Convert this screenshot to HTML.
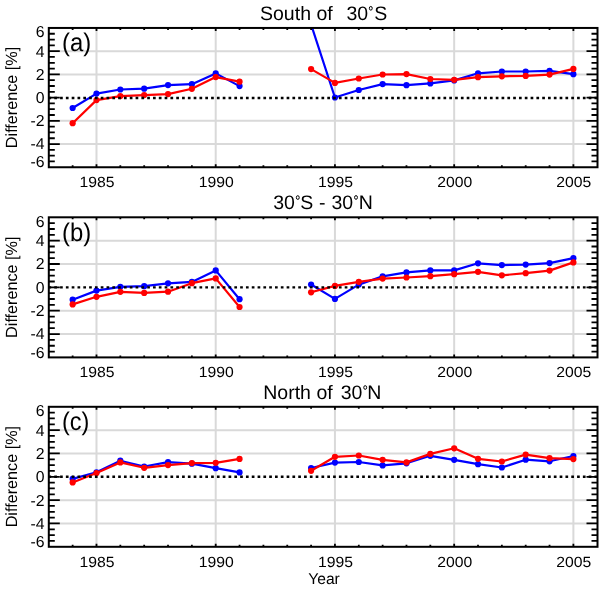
<!DOCTYPE html><html><head><meta charset="utf-8"><style>html,body{margin:0;padding:0;background:#fff;}svg{display:block;will-change:transform;}text{font-family:"Liberation Sans", sans-serif;fill:#000;text-rendering:geometricPrecision;}</style></head><body>
<svg width="604" height="590" viewBox="0 0 604 590">
<rect x="0" y="0" width="604" height="590" fill="#fff"/>
<defs><clipPath id="c0"><rect x="48.80" y="27.95" width="548.70" height="139.30"/></clipPath></defs>
<path d="M96.49 27.95V167.25M215.71 27.95V167.25M334.94 27.95V167.25M454.17 27.95V167.25M573.39 27.95V167.25M48.80 51.17H597.50M48.80 74.38H597.50M48.80 120.82H597.50M48.80 144.03H597.50" stroke="#d9d9d9" stroke-width="2.0" fill="none"/>
<text x="62.0" y="51.35" font-size="25.5" textLength="29.2" lengthAdjust="spacingAndGlyphs">(a)</text>
<g clip-path="url(#c0)">
<path d="M72.64 108.00 L96.49 93.60 L120.33 89.50 L144.18 88.70 L168.02 85.10 L191.87 84.20 L215.71 73.40 L239.56 86.10" stroke="#0000ff" stroke-width="2.2" fill="none" stroke-linejoin="round"/>
<circle cx="72.64" cy="108.00" r="3.1" fill="#0000ff"/>
<circle cx="96.49" cy="93.60" r="3.1" fill="#0000ff"/>
<circle cx="120.33" cy="89.50" r="3.1" fill="#0000ff"/>
<circle cx="144.18" cy="88.70" r="3.1" fill="#0000ff"/>
<circle cx="168.02" cy="85.10" r="3.1" fill="#0000ff"/>
<circle cx="191.87" cy="84.20" r="3.1" fill="#0000ff"/>
<circle cx="215.71" cy="73.40" r="3.1" fill="#0000ff"/>
<circle cx="239.56" cy="86.10" r="3.1" fill="#0000ff"/>
<path d="M311.09 24.50 L334.94 97.50 L358.79 90.00 L382.63 84.10 L406.47 85.20 L430.32 83.40 L454.17 80.40 L478.01 73.30 L501.85 71.50 L525.70 71.50 L549.54 70.80 L573.39 74.20" stroke="#0000ff" stroke-width="2.2" fill="none" stroke-linejoin="round"/>
<circle cx="311.09" cy="24.50" r="3.1" fill="#0000ff"/>
<circle cx="334.94" cy="97.50" r="3.1" fill="#0000ff"/>
<circle cx="358.79" cy="90.00" r="3.1" fill="#0000ff"/>
<circle cx="382.63" cy="84.10" r="3.1" fill="#0000ff"/>
<circle cx="406.47" cy="85.20" r="3.1" fill="#0000ff"/>
<circle cx="430.32" cy="83.40" r="3.1" fill="#0000ff"/>
<circle cx="454.17" cy="80.40" r="3.1" fill="#0000ff"/>
<circle cx="478.01" cy="73.30" r="3.1" fill="#0000ff"/>
<circle cx="501.85" cy="71.50" r="3.1" fill="#0000ff"/>
<circle cx="525.70" cy="71.50" r="3.1" fill="#0000ff"/>
<circle cx="549.54" cy="70.80" r="3.1" fill="#0000ff"/>
<circle cx="573.39" cy="74.20" r="3.1" fill="#0000ff"/>
<path d="M72.64 123.20 L96.49 100.10 L120.33 96.10 L144.18 95.10 L168.02 94.10 L191.87 88.80 L215.71 77.10 L239.56 81.70" stroke="#ff0000" stroke-width="2.2" fill="none" stroke-linejoin="round"/>
<circle cx="72.64" cy="123.20" r="3.1" fill="#ff0000"/>
<circle cx="96.49" cy="100.10" r="3.1" fill="#ff0000"/>
<circle cx="120.33" cy="96.10" r="3.1" fill="#ff0000"/>
<circle cx="144.18" cy="95.10" r="3.1" fill="#ff0000"/>
<circle cx="168.02" cy="94.10" r="3.1" fill="#ff0000"/>
<circle cx="191.87" cy="88.80" r="3.1" fill="#ff0000"/>
<circle cx="215.71" cy="77.10" r="3.1" fill="#ff0000"/>
<circle cx="239.56" cy="81.70" r="3.1" fill="#ff0000"/>
<path d="M311.09 69.10 L334.94 82.90 L358.79 78.50 L382.63 74.50 L406.47 74.10 L430.32 79.00 L454.17 79.80 L478.01 77.20 L501.85 76.30 L525.70 75.90 L549.54 74.60 L573.39 68.90" stroke="#ff0000" stroke-width="2.2" fill="none" stroke-linejoin="round"/>
<circle cx="311.09" cy="69.10" r="3.1" fill="#ff0000"/>
<circle cx="334.94" cy="82.90" r="3.1" fill="#ff0000"/>
<circle cx="358.79" cy="78.50" r="3.1" fill="#ff0000"/>
<circle cx="382.63" cy="74.50" r="3.1" fill="#ff0000"/>
<circle cx="406.47" cy="74.10" r="3.1" fill="#ff0000"/>
<circle cx="430.32" cy="79.00" r="3.1" fill="#ff0000"/>
<circle cx="454.17" cy="79.80" r="3.1" fill="#ff0000"/>
<circle cx="478.01" cy="77.20" r="3.1" fill="#ff0000"/>
<circle cx="501.85" cy="76.30" r="3.1" fill="#ff0000"/>
<circle cx="525.70" cy="75.90" r="3.1" fill="#ff0000"/>
<circle cx="549.54" cy="74.60" r="3.1" fill="#ff0000"/>
<circle cx="573.39" cy="68.90" r="3.1" fill="#ff0000"/>
</g>
<path d="M48.80 97.95H597.50" stroke="#000" stroke-width="2.4" stroke-dasharray="2.7 3.109" stroke-dashoffset="0.35" fill="none"/>
<path d="M48.80 161.45h6.00M597.50 161.45h-6.00M48.80 155.64h6.00M597.50 155.64h-6.00M48.80 149.84h6.00M597.50 149.84h-6.00M48.80 144.03h11.00M597.50 144.03h-11.00M48.80 138.23h6.00M597.50 138.23h-6.00M48.80 132.43h6.00M597.50 132.43h-6.00M48.80 126.62h6.00M597.50 126.62h-6.00M48.80 120.82h11.00M597.50 120.82h-11.00M48.80 115.01h6.00M597.50 115.01h-6.00M48.80 109.21h6.00M597.50 109.21h-6.00M48.80 103.40h6.00M597.50 103.40h-6.00M48.80 97.60h11.00M597.50 97.60h-11.00M48.80 91.80h6.00M597.50 91.80h-6.00M48.80 85.99h6.00M597.50 85.99h-6.00M48.80 80.19h6.00M597.50 80.19h-6.00M48.80 74.38h11.00M597.50 74.38h-11.00M48.80 68.58h6.00M597.50 68.58h-6.00M48.80 62.78h6.00M597.50 62.78h-6.00M48.80 56.97h6.00M597.50 56.97h-6.00M48.80 51.17h11.00M597.50 51.17h-11.00M48.80 45.36h6.00M597.50 45.36h-6.00M48.80 39.56h6.00M597.50 39.56h-6.00M48.80 33.75h6.00M597.50 33.75h-6.00M72.64 167.25v-2.00M72.64 27.95v2.00M96.49 167.25v-3.00M96.49 27.95v3.00M120.33 167.25v-2.00M120.33 27.95v2.00M144.18 167.25v-2.00M144.18 27.95v2.00M168.02 167.25v-2.00M168.02 27.95v2.00M191.87 167.25v-2.00M191.87 27.95v2.00M215.71 167.25v-3.00M215.71 27.95v3.00M239.56 167.25v-2.00M239.56 27.95v2.00M263.40 167.25v-2.00M263.40 27.95v2.00M287.25 167.25v-2.00M287.25 27.95v2.00M311.09 167.25v-2.00M311.09 27.95v2.00M334.94 167.25v-3.00M334.94 27.95v3.00M358.79 167.25v-2.00M358.79 27.95v2.00M382.63 167.25v-2.00M382.63 27.95v2.00M406.47 167.25v-2.00M406.47 27.95v2.00M430.32 167.25v-2.00M430.32 27.95v2.00M454.17 167.25v-3.00M454.17 27.95v3.00M478.01 167.25v-2.00M478.01 27.95v2.00M501.85 167.25v-2.00M501.85 27.95v2.00M525.70 167.25v-2.00M525.70 27.95v2.00M549.54 167.25v-2.00M549.54 27.95v2.00M573.39 167.25v-3.00M573.39 27.95v3.00" stroke="#000" stroke-width="1.8" fill="none"/>
<rect x="48.80" y="27.95" width="548.70" height="139.30" stroke="#000" stroke-width="2.0" fill="none"/>
<text x="44.5" y="37.15" font-size="15.8" text-anchor="end">6</text>
<text x="44.5" y="56.57" font-size="15.8" text-anchor="end">4</text>
<text x="44.5" y="79.78" font-size="15.8" text-anchor="end">2</text>
<text x="44.5" y="103.00" font-size="15.8" text-anchor="end">0</text>
<text x="44.5" y="126.22" font-size="15.8" text-anchor="end">-2</text>
<text x="44.5" y="149.43" font-size="15.8" text-anchor="end">-4</text>
<text x="44.5" y="167.35" font-size="15.8" text-anchor="end">-6</text>
<text x="96.99" y="187.25" font-size="14.8" text-anchor="middle" textLength="35.0" lengthAdjust="spacingAndGlyphs">1985</text>
<text x="216.21" y="187.25" font-size="14.8" text-anchor="middle" textLength="35.0" lengthAdjust="spacingAndGlyphs">1990</text>
<text x="335.44" y="187.25" font-size="14.8" text-anchor="middle" textLength="35.0" lengthAdjust="spacingAndGlyphs">1995</text>
<text x="454.67" y="187.25" font-size="14.8" text-anchor="middle" textLength="35.0" lengthAdjust="spacingAndGlyphs">2000</text>
<text x="573.89" y="187.25" font-size="14.8" text-anchor="middle" textLength="35.0" lengthAdjust="spacingAndGlyphs">2005</text>
<text x="260.02" y="19.85" font-size="19.5">South of</text>
<text x="346.47" y="19.85" font-size="19.5">30</text>
<ellipse cx="370.80" cy="8.30" rx="1.45" ry="1.85" fill="none" stroke="#000" stroke-width="1.0"/>
<text x="374.22" y="19.85" font-size="19.5">S</text>
<text x="0" y="0" font-size="16.2" text-anchor="middle" transform="translate(17.1 97.45) rotate(-90)">Difference [%]</text>
<defs><clipPath id="c1"><rect x="48.80" y="217.30" width="548.70" height="140.10"/></clipPath></defs>
<path d="M96.49 217.30V357.40M215.71 217.30V357.40M334.94 217.30V357.40M454.17 217.30V357.40M573.39 217.30V357.40M48.80 240.65H597.50M48.80 264.00H597.50M48.80 310.70H597.50M48.80 334.05H597.50" stroke="#d9d9d9" stroke-width="2.0" fill="none"/>
<text x="62.0" y="240.70" font-size="25.5" textLength="29.2" lengthAdjust="spacingAndGlyphs">(b)</text>
<g clip-path="url(#c1)">
<path d="M72.64 299.70 L96.49 290.60 L120.33 286.80 L144.18 286.20 L168.02 283.30 L191.87 281.90 L215.71 270.40 L239.56 299.20" stroke="#0000ff" stroke-width="2.2" fill="none" stroke-linejoin="round"/>
<circle cx="72.64" cy="299.70" r="3.1" fill="#0000ff"/>
<circle cx="96.49" cy="290.60" r="3.1" fill="#0000ff"/>
<circle cx="120.33" cy="286.80" r="3.1" fill="#0000ff"/>
<circle cx="144.18" cy="286.20" r="3.1" fill="#0000ff"/>
<circle cx="168.02" cy="283.30" r="3.1" fill="#0000ff"/>
<circle cx="191.87" cy="281.90" r="3.1" fill="#0000ff"/>
<circle cx="215.71" cy="270.40" r="3.1" fill="#0000ff"/>
<circle cx="239.56" cy="299.20" r="3.1" fill="#0000ff"/>
<path d="M311.09 284.50 L334.94 298.90 L358.79 284.60 L382.63 276.30 L406.47 272.40 L430.32 270.40 L454.17 270.40 L478.01 263.30 L501.85 265.10 L525.70 264.60 L549.54 263.10 L573.39 258.20" stroke="#0000ff" stroke-width="2.2" fill="none" stroke-linejoin="round"/>
<circle cx="311.09" cy="284.50" r="3.1" fill="#0000ff"/>
<circle cx="334.94" cy="298.90" r="3.1" fill="#0000ff"/>
<circle cx="358.79" cy="284.60" r="3.1" fill="#0000ff"/>
<circle cx="382.63" cy="276.30" r="3.1" fill="#0000ff"/>
<circle cx="406.47" cy="272.40" r="3.1" fill="#0000ff"/>
<circle cx="430.32" cy="270.40" r="3.1" fill="#0000ff"/>
<circle cx="454.17" cy="270.40" r="3.1" fill="#0000ff"/>
<circle cx="478.01" cy="263.30" r="3.1" fill="#0000ff"/>
<circle cx="501.85" cy="265.10" r="3.1" fill="#0000ff"/>
<circle cx="525.70" cy="264.60" r="3.1" fill="#0000ff"/>
<circle cx="549.54" cy="263.10" r="3.1" fill="#0000ff"/>
<circle cx="573.39" cy="258.20" r="3.1" fill="#0000ff"/>
<path d="M72.64 304.40 L96.49 296.80 L120.33 291.80 L144.18 292.90 L168.02 291.70 L191.87 283.20 L215.71 278.40 L239.56 307.00" stroke="#ff0000" stroke-width="2.2" fill="none" stroke-linejoin="round"/>
<circle cx="72.64" cy="304.40" r="3.1" fill="#ff0000"/>
<circle cx="96.49" cy="296.80" r="3.1" fill="#ff0000"/>
<circle cx="120.33" cy="291.80" r="3.1" fill="#ff0000"/>
<circle cx="144.18" cy="292.90" r="3.1" fill="#ff0000"/>
<circle cx="168.02" cy="291.70" r="3.1" fill="#ff0000"/>
<circle cx="191.87" cy="283.20" r="3.1" fill="#ff0000"/>
<circle cx="215.71" cy="278.40" r="3.1" fill="#ff0000"/>
<circle cx="239.56" cy="307.00" r="3.1" fill="#ff0000"/>
<path d="M311.09 292.30 L334.94 285.90 L358.79 281.80 L382.63 278.60 L406.47 277.50 L430.32 276.20 L454.17 274.20 L478.01 271.80 L501.85 275.30 L525.70 273.20 L549.54 270.60 L573.39 262.40" stroke="#ff0000" stroke-width="2.2" fill="none" stroke-linejoin="round"/>
<circle cx="311.09" cy="292.30" r="3.1" fill="#ff0000"/>
<circle cx="334.94" cy="285.90" r="3.1" fill="#ff0000"/>
<circle cx="358.79" cy="281.80" r="3.1" fill="#ff0000"/>
<circle cx="382.63" cy="278.60" r="3.1" fill="#ff0000"/>
<circle cx="406.47" cy="277.50" r="3.1" fill="#ff0000"/>
<circle cx="430.32" cy="276.20" r="3.1" fill="#ff0000"/>
<circle cx="454.17" cy="274.20" r="3.1" fill="#ff0000"/>
<circle cx="478.01" cy="271.80" r="3.1" fill="#ff0000"/>
<circle cx="501.85" cy="275.30" r="3.1" fill="#ff0000"/>
<circle cx="525.70" cy="273.20" r="3.1" fill="#ff0000"/>
<circle cx="549.54" cy="270.60" r="3.1" fill="#ff0000"/>
<circle cx="573.39" cy="262.40" r="3.1" fill="#ff0000"/>
</g>
<path d="M48.80 287.35H597.50" stroke="#000" stroke-width="2.4" stroke-dasharray="2.7 3.109" stroke-dashoffset="0.35" fill="none"/>
<path d="M48.80 351.56h6.00M597.50 351.56h-6.00M48.80 345.73h6.00M597.50 345.73h-6.00M48.80 339.89h6.00M597.50 339.89h-6.00M48.80 334.05h11.00M597.50 334.05h-11.00M48.80 328.21h6.00M597.50 328.21h-6.00M48.80 322.38h6.00M597.50 322.38h-6.00M48.80 316.54h6.00M597.50 316.54h-6.00M48.80 310.70h11.00M597.50 310.70h-11.00M48.80 304.86h6.00M597.50 304.86h-6.00M48.80 299.02h6.00M597.50 299.02h-6.00M48.80 293.19h6.00M597.50 293.19h-6.00M48.80 287.35h11.00M597.50 287.35h-11.00M48.80 281.51h6.00M597.50 281.51h-6.00M48.80 275.68h6.00M597.50 275.68h-6.00M48.80 269.84h6.00M597.50 269.84h-6.00M48.80 264.00h11.00M597.50 264.00h-11.00M48.80 258.16h6.00M597.50 258.16h-6.00M48.80 252.32h6.00M597.50 252.32h-6.00M48.80 246.49h6.00M597.50 246.49h-6.00M48.80 240.65h11.00M597.50 240.65h-11.00M48.80 234.81h6.00M597.50 234.81h-6.00M48.80 228.98h6.00M597.50 228.98h-6.00M48.80 223.14h6.00M597.50 223.14h-6.00M72.64 357.40v-2.00M72.64 217.30v2.00M96.49 357.40v-3.00M96.49 217.30v3.00M120.33 357.40v-2.00M120.33 217.30v2.00M144.18 357.40v-2.00M144.18 217.30v2.00M168.02 357.40v-2.00M168.02 217.30v2.00M191.87 357.40v-2.00M191.87 217.30v2.00M215.71 357.40v-3.00M215.71 217.30v3.00M239.56 357.40v-2.00M239.56 217.30v2.00M263.40 357.40v-2.00M263.40 217.30v2.00M287.25 357.40v-2.00M287.25 217.30v2.00M311.09 357.40v-2.00M311.09 217.30v2.00M334.94 357.40v-3.00M334.94 217.30v3.00M358.79 357.40v-2.00M358.79 217.30v2.00M382.63 357.40v-2.00M382.63 217.30v2.00M406.47 357.40v-2.00M406.47 217.30v2.00M430.32 357.40v-2.00M430.32 217.30v2.00M454.17 357.40v-3.00M454.17 217.30v3.00M478.01 357.40v-2.00M478.01 217.30v2.00M501.85 357.40v-2.00M501.85 217.30v2.00M525.70 357.40v-2.00M525.70 217.30v2.00M549.54 357.40v-2.00M549.54 217.30v2.00M573.39 357.40v-3.00M573.39 217.30v3.00" stroke="#000" stroke-width="1.8" fill="none"/>
<rect x="48.80" y="217.30" width="548.70" height="140.10" stroke="#000" stroke-width="2.0" fill="none"/>
<text x="44.5" y="226.50" font-size="15.8" text-anchor="end">6</text>
<text x="44.5" y="246.05" font-size="15.8" text-anchor="end">4</text>
<text x="44.5" y="269.40" font-size="15.8" text-anchor="end">2</text>
<text x="44.5" y="292.75" font-size="15.8" text-anchor="end">0</text>
<text x="44.5" y="316.10" font-size="15.8" text-anchor="end">-2</text>
<text x="44.5" y="339.45" font-size="15.8" text-anchor="end">-4</text>
<text x="44.5" y="357.50" font-size="15.8" text-anchor="end">-6</text>
<text x="96.99" y="377.40" font-size="14.8" text-anchor="middle" textLength="35.0" lengthAdjust="spacingAndGlyphs">1985</text>
<text x="216.21" y="377.40" font-size="14.8" text-anchor="middle" textLength="35.0" lengthAdjust="spacingAndGlyphs">1990</text>
<text x="335.44" y="377.40" font-size="14.8" text-anchor="middle" textLength="35.0" lengthAdjust="spacingAndGlyphs">1995</text>
<text x="454.67" y="377.40" font-size="14.8" text-anchor="middle" textLength="35.0" lengthAdjust="spacingAndGlyphs">2000</text>
<text x="573.89" y="377.40" font-size="14.8" text-anchor="middle" textLength="35.0" lengthAdjust="spacingAndGlyphs">2005</text>
<text x="273.17" y="209.20" font-size="19.5">30</text>
<ellipse cx="297.80" cy="197.55" rx="1.45" ry="1.85" fill="none" stroke="#000" stroke-width="1.0"/>
<text x="300.22" y="209.20" font-size="19.5">S</text>
<text x="319.02" y="209.20" font-size="19.5">-</text>
<text x="331.47" y="209.20" font-size="19.5">30</text>
<ellipse cx="356.00" cy="197.45" rx="1.45" ry="1.85" fill="none" stroke="#000" stroke-width="1.0"/>
<text x="358.69" y="209.20" font-size="19.5">N</text>
<text x="0" y="0" font-size="16.2" text-anchor="middle" transform="translate(17.1 287.20) rotate(-90)">Difference [%]</text>
<defs><clipPath id="c2"><rect x="48.80" y="406.80" width="548.70" height="140.00"/></clipPath></defs>
<path d="M96.49 406.80V546.80M215.71 406.80V546.80M334.94 406.80V546.80M454.17 406.80V546.80M573.39 406.80V546.80M48.80 430.13H597.50M48.80 453.47H597.50M48.80 500.13H597.50M48.80 523.47H597.50" stroke="#d9d9d9" stroke-width="2.0" fill="none"/>
<text x="62.0" y="430.20" font-size="25.5" textLength="27.4" lengthAdjust="spacingAndGlyphs">(c)</text>
<g clip-path="url(#c2)">
<path d="M72.64 478.90 L96.49 472.30 L120.33 460.70 L144.18 466.50 L168.02 462.20 L191.87 463.70 L215.71 468.20 L239.56 472.40" stroke="#0000ff" stroke-width="2.2" fill="none" stroke-linejoin="round"/>
<circle cx="72.64" cy="478.90" r="3.1" fill="#0000ff"/>
<circle cx="96.49" cy="472.30" r="3.1" fill="#0000ff"/>
<circle cx="120.33" cy="460.70" r="3.1" fill="#0000ff"/>
<circle cx="144.18" cy="466.50" r="3.1" fill="#0000ff"/>
<circle cx="168.02" cy="462.20" r="3.1" fill="#0000ff"/>
<circle cx="191.87" cy="463.70" r="3.1" fill="#0000ff"/>
<circle cx="215.71" cy="468.20" r="3.1" fill="#0000ff"/>
<circle cx="239.56" cy="472.40" r="3.1" fill="#0000ff"/>
<path d="M311.09 468.00 L334.94 462.60 L358.79 462.00 L382.63 465.40 L406.47 463.30 L430.32 455.80 L454.17 459.80 L478.01 464.20 L501.85 467.50 L525.70 459.70 L549.54 461.30 L573.39 456.00" stroke="#0000ff" stroke-width="2.2" fill="none" stroke-linejoin="round"/>
<circle cx="311.09" cy="468.00" r="3.1" fill="#0000ff"/>
<circle cx="334.94" cy="462.60" r="3.1" fill="#0000ff"/>
<circle cx="358.79" cy="462.00" r="3.1" fill="#0000ff"/>
<circle cx="382.63" cy="465.40" r="3.1" fill="#0000ff"/>
<circle cx="406.47" cy="463.30" r="3.1" fill="#0000ff"/>
<circle cx="430.32" cy="455.80" r="3.1" fill="#0000ff"/>
<circle cx="454.17" cy="459.80" r="3.1" fill="#0000ff"/>
<circle cx="478.01" cy="464.20" r="3.1" fill="#0000ff"/>
<circle cx="501.85" cy="467.50" r="3.1" fill="#0000ff"/>
<circle cx="525.70" cy="459.70" r="3.1" fill="#0000ff"/>
<circle cx="549.54" cy="461.30" r="3.1" fill="#0000ff"/>
<circle cx="573.39" cy="456.00" r="3.1" fill="#0000ff"/>
<path d="M72.64 482.40 L96.49 473.10 L120.33 462.40 L144.18 467.80 L168.02 465.10 L191.87 463.10 L215.71 462.80 L239.56 458.90" stroke="#ff0000" stroke-width="2.2" fill="none" stroke-linejoin="round"/>
<circle cx="72.64" cy="482.40" r="3.1" fill="#ff0000"/>
<circle cx="96.49" cy="473.10" r="3.1" fill="#ff0000"/>
<circle cx="120.33" cy="462.40" r="3.1" fill="#ff0000"/>
<circle cx="144.18" cy="467.80" r="3.1" fill="#ff0000"/>
<circle cx="168.02" cy="465.10" r="3.1" fill="#ff0000"/>
<circle cx="191.87" cy="463.10" r="3.1" fill="#ff0000"/>
<circle cx="215.71" cy="462.80" r="3.1" fill="#ff0000"/>
<circle cx="239.56" cy="458.90" r="3.1" fill="#ff0000"/>
<path d="M311.09 470.80 L334.94 456.80 L358.79 455.50 L382.63 459.80 L406.47 462.40 L430.32 453.90 L454.17 448.30 L478.01 458.80 L501.85 461.50 L525.70 454.60 L549.54 458.20 L573.39 459.10" stroke="#ff0000" stroke-width="2.2" fill="none" stroke-linejoin="round"/>
<circle cx="311.09" cy="470.80" r="3.1" fill="#ff0000"/>
<circle cx="334.94" cy="456.80" r="3.1" fill="#ff0000"/>
<circle cx="358.79" cy="455.50" r="3.1" fill="#ff0000"/>
<circle cx="382.63" cy="459.80" r="3.1" fill="#ff0000"/>
<circle cx="406.47" cy="462.40" r="3.1" fill="#ff0000"/>
<circle cx="430.32" cy="453.90" r="3.1" fill="#ff0000"/>
<circle cx="454.17" cy="448.30" r="3.1" fill="#ff0000"/>
<circle cx="478.01" cy="458.80" r="3.1" fill="#ff0000"/>
<circle cx="501.85" cy="461.50" r="3.1" fill="#ff0000"/>
<circle cx="525.70" cy="454.60" r="3.1" fill="#ff0000"/>
<circle cx="549.54" cy="458.20" r="3.1" fill="#ff0000"/>
<circle cx="573.39" cy="459.10" r="3.1" fill="#ff0000"/>
</g>
<path d="M48.80 476.70H597.50" stroke="#000" stroke-width="2.4" stroke-dasharray="2.7 3.109" stroke-dashoffset="0.35" fill="none"/>
<path d="M48.80 540.97h6.00M597.50 540.97h-6.00M48.80 535.13h6.00M597.50 535.13h-6.00M48.80 529.30h6.00M597.50 529.30h-6.00M48.80 523.47h11.00M597.50 523.47h-11.00M48.80 517.63h6.00M597.50 517.63h-6.00M48.80 511.80h6.00M597.50 511.80h-6.00M48.80 505.97h6.00M597.50 505.97h-6.00M48.80 500.13h11.00M597.50 500.13h-11.00M48.80 494.30h6.00M597.50 494.30h-6.00M48.80 488.47h6.00M597.50 488.47h-6.00M48.80 482.63h6.00M597.50 482.63h-6.00M48.80 476.80h11.00M597.50 476.80h-11.00M48.80 470.97h6.00M597.50 470.97h-6.00M48.80 465.13h6.00M597.50 465.13h-6.00M48.80 459.30h6.00M597.50 459.30h-6.00M48.80 453.47h11.00M597.50 453.47h-11.00M48.80 447.63h6.00M597.50 447.63h-6.00M48.80 441.80h6.00M597.50 441.80h-6.00M48.80 435.97h6.00M597.50 435.97h-6.00M48.80 430.13h11.00M597.50 430.13h-11.00M48.80 424.30h6.00M597.50 424.30h-6.00M48.80 418.47h6.00M597.50 418.47h-6.00M48.80 412.63h6.00M597.50 412.63h-6.00M72.64 546.80v-2.00M72.64 406.80v2.00M96.49 546.80v-3.00M96.49 406.80v3.00M120.33 546.80v-2.00M120.33 406.80v2.00M144.18 546.80v-2.00M144.18 406.80v2.00M168.02 546.80v-2.00M168.02 406.80v2.00M191.87 546.80v-2.00M191.87 406.80v2.00M215.71 546.80v-3.00M215.71 406.80v3.00M239.56 546.80v-2.00M239.56 406.80v2.00M263.40 546.80v-2.00M263.40 406.80v2.00M287.25 546.80v-2.00M287.25 406.80v2.00M311.09 546.80v-2.00M311.09 406.80v2.00M334.94 546.80v-3.00M334.94 406.80v3.00M358.79 546.80v-2.00M358.79 406.80v2.00M382.63 546.80v-2.00M382.63 406.80v2.00M406.47 546.80v-2.00M406.47 406.80v2.00M430.32 546.80v-2.00M430.32 406.80v2.00M454.17 546.80v-3.00M454.17 406.80v3.00M478.01 546.80v-2.00M478.01 406.80v2.00M501.85 546.80v-2.00M501.85 406.80v2.00M525.70 546.80v-2.00M525.70 406.80v2.00M549.54 546.80v-2.00M549.54 406.80v2.00M573.39 546.80v-3.00M573.39 406.80v3.00" stroke="#000" stroke-width="1.8" fill="none"/>
<rect x="48.80" y="406.80" width="548.70" height="140.00" stroke="#000" stroke-width="2.0" fill="none"/>
<text x="44.5" y="416.00" font-size="15.8" text-anchor="end">6</text>
<text x="44.5" y="435.53" font-size="15.8" text-anchor="end">4</text>
<text x="44.5" y="458.87" font-size="15.8" text-anchor="end">2</text>
<text x="44.5" y="482.20" font-size="15.8" text-anchor="end">0</text>
<text x="44.5" y="505.53" font-size="15.8" text-anchor="end">-2</text>
<text x="44.5" y="528.87" font-size="15.8" text-anchor="end">-4</text>
<text x="44.5" y="546.90" font-size="15.8" text-anchor="end">-6</text>
<text x="96.99" y="566.80" font-size="14.8" text-anchor="middle" textLength="35.0" lengthAdjust="spacingAndGlyphs">1985</text>
<text x="216.21" y="566.80" font-size="14.8" text-anchor="middle" textLength="35.0" lengthAdjust="spacingAndGlyphs">1990</text>
<text x="335.44" y="566.80" font-size="14.8" text-anchor="middle" textLength="35.0" lengthAdjust="spacingAndGlyphs">1995</text>
<text x="454.67" y="566.80" font-size="14.8" text-anchor="middle" textLength="35.0" lengthAdjust="spacingAndGlyphs">2000</text>
<text x="573.89" y="566.80" font-size="14.8" text-anchor="middle" textLength="35.0" lengthAdjust="spacingAndGlyphs">2005</text>
<text x="263.29" y="398.70" font-size="19.5">North of</text>
<text x="340.77" y="398.70" font-size="19.5">30</text>
<ellipse cx="365.20" cy="387.50" rx="1.45" ry="1.85" fill="none" stroke="#000" stroke-width="1.0"/>
<text x="367.19" y="398.70" font-size="19.5">N</text>
<text x="0" y="0" font-size="16.2" text-anchor="middle" transform="translate(17.1 476.65) rotate(-90)">Difference [%]</text>
<text x="324" y="584" font-size="15.6" text-anchor="middle">Year</text>
</svg></body></html>
